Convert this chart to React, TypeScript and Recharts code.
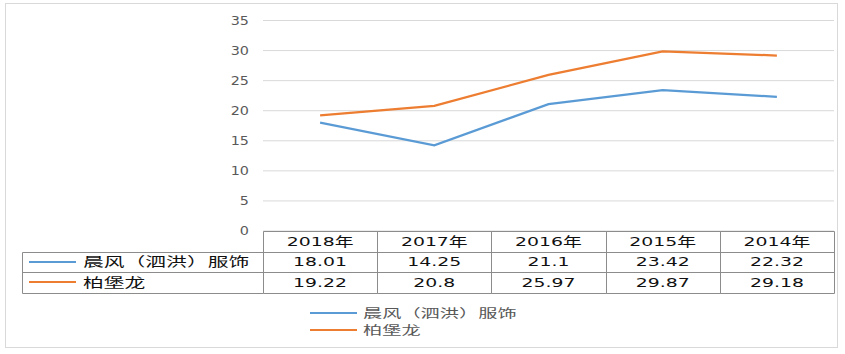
import React from 'react';
import { LineChart, Line, XAxis, YAxis, CartesianGrid, Legend } from 'recharts';

const years = ['2018年', '2017年', '2016年', '2015年', '2014年'];
const chenfeng = [18.01, 14.25, 21.1, 23.42, 22.32];
const baibaolong = [19.22, 20.8, 25.97, 29.87, 29.18];
const yTicks = [0, 5, 10, 15, 20, 25, 30, 35];

const seriesNames = ['晨风（泗洪）服饰', '柏堡龙'];
const seriesColors = ['#5B9BD5', '#ED7D31'];
const seriesValues = [chenfeng, baibaolong];

const data = years.map((year, i) => ({ year, chenfeng: chenfeng[i], baibaolong: baibaolong[i] }));

const W = 845;
const H = 354;
const PLOT_LEFT = 263;
const PLOT_RIGHT = 834;
const COL = (PLOT_RIGHT - PLOT_LEFT) / years.length;
const ROW = 20.5;
const TABLE_H = 61.5;
const LABEL_LEFT = 22;
const FONT = '"DejaVu Sans", "Noto Sans CJK SC", sans-serif';
const BORDER = '#8c8c8c';

const px = (v: number) => Math.round(v) + 0.5;

function YTick(props: any) {
  const { x, y, payload } = props;
  return (
    <g transform={`translate(${x},${y})`}>
      <text transform="scale(1.25,1)" textAnchor="end" dy="0.355em" fill="#595959" fontSize={11.5} fontFamily={FONT}>
        {payload.value}
      </text>
    </g>
  );
}

function Cell({ cx, cy, text, scale = 1.45, anchor = 'middle', color = '#111', size = 13 }: any) {
  return (
    <g transform={`translate(${cx},${cy})`}>
      <text transform={`scale(${scale},1)`} textAnchor={anchor} dy="0.36em" fill={color} fontSize={size} fontFamily={FONT}>
        {text}
      </text>
    </g>
  );
}

// each x tick draws one column of the data table under the plot
function TableTick(props: any) {
  const { x, y, payload } = props;
  const i = payload.index;
  const l = px(x - COL / 2);
  const r = px(x + COL / 2);
  const top = px(y);
  const rows = [top, px(y + ROW), px(y + ROW * 2), px(y + TABLE_H)];
  return (
    <g>
      {rows.map((ry, k) => (
        <line key={k} x1={l} x2={r} y1={ry} y2={ry} stroke={BORDER} />
      ))}
      <line x1={l} x2={l} y1={top} y2={rows[3]} stroke={BORDER} />
      <line x1={r} x2={r} y1={top} y2={rows[3]} stroke={BORDER} />
      <Cell cx={x} cy={y + ROW / 2} text={years[i]} />
      {seriesValues.map((vals, k) => (
        <Cell key={k} cx={x} cy={y + ROW * (k + 1.5)} text={vals[i]} />
      ))}
      {i === 0 && (
        <g>
          {rows.slice(1).map((ry, k) => (
            <line key={k} x1={px(LABEL_LEFT)} x2={l} y1={ry} y2={ry} stroke={BORDER} />
          ))}
          <line x1={px(LABEL_LEFT)} x2={px(LABEL_LEFT)} y1={rows[1]} y2={rows[3]} stroke={BORDER} />
          {seriesNames.map((name, k) => {
            const cy = y + ROW * (k + 1.5);
            return (
              <g key={k}>
                <line x1={29} x2={76} y1={Math.round(cy)} y2={Math.round(cy)} stroke={seriesColors[k]} strokeWidth={2} />
                <Cell cx={83} cy={cy} text={name} anchor="start" scale={1.6} />
              </g>
            );
          })}
        </g>
      )}
    </g>
  );
}

function LegendBox(props: any) {
  const items = props.payload || [];
  return (
    <div style={{ fontFamily: FONT }}>
      {items.map((it: any) => (
        <div key={it.value} style={{ display: 'flex', alignItems: 'center', height: 17 }}>
          <div style={{ width: 47, height: 2, background: it.color, marginRight: 6 }} />
          <span
            style={{
              display: 'inline-block',
              fontSize: 12,
              color: '#595959',
              transform: 'scaleX(1.6)',
              transformOrigin: 'left center',
              whiteSpace: 'nowrap',
            }}
          >
            {it.value}
          </span>
        </div>
      ))}
    </div>
  );
}

export default function App() {
  return (
    <div style={{ position: 'absolute', left: 0, top: 0, width: W, height: H, background: '#fff' }}>
      <div
        style={{
          position: 'absolute',
          left: 5,
          top: 3,
          width: 833,
          height: 345,
          border: '1px solid #d9d9d9',
          boxSizing: 'border-box',
        }}
      />
      <LineChart width={W} height={H} data={data} margin={{ top: 20.5, right: W - PLOT_RIGHT, left: PLOT_LEFT - 40, bottom: 61.5 }}>
        <CartesianGrid vertical={false} stroke="#d9d9d9" />
        <XAxis
          dataKey="year"
          height={TABLE_H}
          padding={{ left: COL / 2, right: COL / 2 }}
          axisLine={false}
          tickLine={false}
          tickSize={0}
          tickMargin={0}
          interval={0}
          tick={<TableTick />}
        />
        <YAxis
          domain={[0, 35]}
          ticks={yTicks}
          width={40}
          axisLine={false}
          tickLine={false}
          tickSize={6}
          tickMargin={8}
          tick={<YTick />}
        />
        <Line dataKey="chenfeng" name={seriesNames[0]} stroke={seriesColors[0]} strokeWidth={2.25} dot={false} isAnimationActive={false} />
        <Line dataKey="baibaolong" name={seriesNames[1]} stroke={seriesColors[1]} strokeWidth={2.25} dot={false} isAnimationActive={false} />
        <Legend
          layout="vertical"
          align="center"
          verticalAlign="middle"
          content={<LegendBox />}
          wrapperStyle={{ left: 310, top: 304, width: 'auto', height: 'auto' }}
        />
      </LineChart>
    </div>
  );
}
